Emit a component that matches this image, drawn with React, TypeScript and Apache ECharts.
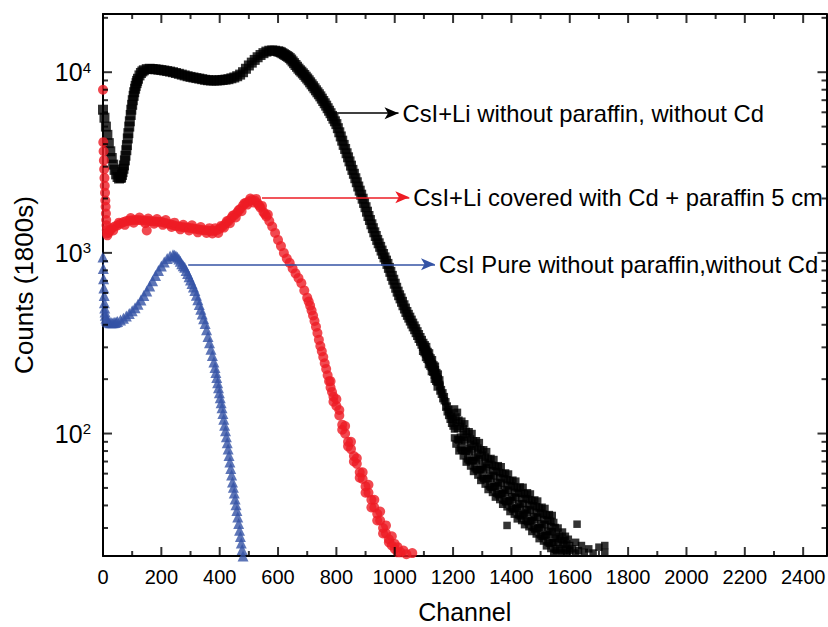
import React, { useEffect, useRef } from "react";
import * as echarts from "echarts";

const FONT = "'Liberation Sans', Arial, Helvetica, sans-serif";

const xTickValues = [0, 200, 400, 600, 800, 1000, 1200, 1400, 1600, 1800, 2000, 2200, 2400];
const xMinorValues = [100, 300, 500, 700, 900, 1100, 1300, 1500, 1700, 1900, 2100, 2300];
const yMajorValues = [100, 1000, 10000];
const yMinorValues = [30, 40, 50, 60, 70, 80, 90, 200, 300, 400, 500, 600, 700, 800, 900, 2000, 3000, 4000, 5000, 6000, 7000, 8000, 9000, 20000];

const seriesNames = [
  "CsI+Li without paraffin, without Cd",
  "CsI+Li covered with Cd + paraffin 5 cm",
  "CsI Pure without paraffin,without Cd",
];

// [channel, counts]
const blackMain: [number, number][] = [
  [0, 6200], [5, 5600], [10, 5000], [15, 4500], [20, 4050], [25, 3650], [30, 3350], [35, 3080], [40, 2880], [45, 2720],
  [50, 2630], [55, 2580], [60, 2600], [62, 2620], [65, 2700], [67, 2800], [70, 2920], [72, 3050], [75, 3250], [77, 3450],
  [80, 3700], [82, 3950], [85, 4300], [87, 4600], [90, 5000], [92, 5350], [95, 5800], [97, 6200], [100, 6600], [102, 7000],
  [105, 7400], [107, 7750], [110, 8100], [112, 8400], [115, 8700], [117, 8950], [120, 9200], [125, 9600], [130, 9900],
  [135, 10100], [140, 10250], [150, 10400], [160, 10450], [170, 10420], [180, 10380], [190, 10330], [200, 10280],
  [210, 10220], [220, 10150], [230, 10080], [240, 10000], [250, 9900], [260, 9800], [270, 9700], [280, 9600], [290, 9500],
  [300, 9420], [310, 9350], [320, 9280], [330, 9220], [340, 9150], [350, 9080], [360, 9030], [370, 9000], [380, 9000],
  [390, 9000], [400, 9020], [410, 9060], [420, 9100], [430, 9150], [440, 9250], [450, 9350], [460, 9500], [470, 9700],
  [480, 10000], [490, 10450], [500, 10900], [510, 11300], [520, 11700], [530, 12100], [540, 12450], [550, 12750],
  [560, 13000], [570, 13150], [580, 13200], [590, 13150], [600, 13050], [605, 12980], [610, 12880], [615, 12740],
  [620, 12590], [625, 12450], [630, 12300], [635, 12160], [640, 11970], [645, 11750], [650, 11480], [655, 11220],
  [660, 10960], [665, 10720], [670, 10470], [675, 10250], [680, 10070], [685, 9860], [690, 9660], [695, 9440],
  [700, 9230], [705, 9020], [710, 8790], [715, 8570], [720, 8360], [725, 8150], [730, 7940], [735, 7740], [740, 7550],
  [745, 7350], [750, 7140], [755, 6930], [760, 6730], [765, 6530], [770, 6320], [775, 6120], [780, 5930], [785, 5730],
  [790, 5530], [795, 5350], [800, 5160], [805, 4900], [810, 4650], [815, 4410], [820, 4180], [825, 3960], [830, 3760],
  [835, 3560], [840, 3380], [845, 3210], [850, 3040], [855, 2880], [860, 2740], [865, 2590], [870, 2460], [875, 2330],
  [880, 2210], [885, 2100], [890, 1995], [895, 1890], [900, 1790], [905, 1690], [910, 1600], [915, 1520], [920, 1440],
  [925, 1370], [930, 1300], [935, 1240], [940, 1180], [945, 1130], [950, 1080], [955, 1030], [960, 986], [965, 944],
  [970, 906], [975, 869], [980, 826], [985, 785], [990, 746], [995, 710], [1000, 675], [1005, 641], [1010, 610],
  [1015, 583], [1020, 560], [1025, 536], [1030, 513], [1035, 492], [1040, 471], [1045, 454], [1050, 438], [1055, 422],
  [1060, 406], [1065, 392], [1070, 378], [1075, 364], [1080, 351], [1085, 338], [1090, 326], [1095, 314],
];

const blackTail: [number, number][] = [
  [1100, 305], [1100, 290], [1105, 285], [1105, 298], [1110, 280], [1110, 268], [1115, 262], [1115, 275],
  [1120, 258], [1120, 245], [1125, 240], [1125, 252], [1130, 236], [1130, 224], [1135, 222], [1135, 232],
  [1140, 214], [1140, 203], [1145, 198], [1145, 210], [1150, 195], [1150, 184], [1155, 183], [1155, 172],
  [1160, 175], [1160, 165], [1165, 168], [1165, 156], [1170, 152], [1170, 160], [1175, 150], [1175, 140],
  [1180, 142], [1180, 132], [1185, 136], [1185, 126], [1190, 130], [1190, 120], [1195, 125], [1195, 114],
  [1200, 120], [1200, 110],
  [1205, 136.8], [1205, 106], [1205, 94.6], [1210, 115], [1210, 87.5], [1210, 123.6], [1215, 92.9], [1215, 106.7], [1215, 131],
  [1220, 118.6], [1220, 92], [1220, 80.2], [1225, 95.5], [1225, 109.6], [1225, 83.2], [1230, 117], [1230, 90.8], [1230, 80.9],
  [1235, 99], [1235, 75.2], [1235, 106.2], [1240, 80.2], [1240, 92], [1240, 113.2], [1245, 102.8], [1245, 79.8], [1245, 69.5],
  [1250, 83.2], [1250, 95.5], [1250, 72.4], [1255, 102.3], [1255, 79.4], [1255, 70.8], [1260, 87.1], [1260, 66.1], [1260, 93.3],
  [1265, 70.8], [1265, 81.3], [1265, 100], [1270, 91.2], [1270, 70.8], [1270, 61.7], [1275, 74.1], [1275, 85.1], [1275, 64.6],
  [1280, 91.2], [1280, 70.8], [1280, 63.1], [1285, 77.6], [1285, 58.9], [1285, 83.2], [1290, 63.1], [1290, 72.4], [1290, 89.1],
  [1295, 81.3], [1295, 63.1], [1295, 55], [1300, 66.1], [1300, 75.9], [1300, 57.5], [1305, 81.3], [1305, 63.1], [1305, 56.2],
  [1310, 69.2], [1310, 52.5], [1310, 74.1], [1315, 56.2], [1315, 64.6], [1315, 79.4], [1320, 72.4], [1320, 56.2], [1320, 49],
  [1325, 58.9], [1325, 67.6], [1325, 51.3], [1330, 72.8], [1330, 56.5], [1330, 50.4], [1335, 62.2], [1335, 47.2], [1335, 66.7],
  [1340, 50.8], [1340, 58.3], [1340, 71.8], [1345, 65.8], [1345, 51.1], [1345, 44.5], [1350, 53.7], [1350, 61.7], [1350, 46.8],
  [1355, 66.4], [1355, 51.5], [1355, 45.9], [1360, 56.8], [1360, 43.1], [1360, 60.8], [1365, 46.3], [1365, 53.2], [1365, 65.5],
  [1370, 60], [1370, 46.6], [1370, 40.6], [1375, 49], [1375, 56.2], [1375, 42.7], [1380, 60.5], [1380, 47], [1380, 41.9],
  [1385, 51.8], [1385, 39.3], [1385, 55.5], [1385, 31], [1390, 42.3], [1390, 48.5], [1390, 59.7], [1395, 54.7], [1395, 42.5], [1395, 37],
  [1400, 44.7], [1400, 51.3], [1400, 38.9], [1405, 55.2], [1405, 42.9], [1405, 38.2], [1410, 47.2], [1410, 35.8], [1410, 50.6],
  [1415, 38.5], [1415, 44.3], [1415, 54.5], [1420, 49.9], [1420, 38.7], [1420, 33.7], [1425, 40.7], [1425, 46.8], [1425, 35.5],
  [1430, 50.6], [1430, 39.3], [1430, 35], [1435, 43.4], [1435, 33], [1435, 46.6], [1440, 35.6], [1440, 40.9], [1440, 50.4],
  [1445, 46.3], [1445, 36], [1445, 31.3], [1450, 38], [1450, 43.6], [1450, 33.1], [1455, 47], [1455, 36.5], [1455, 32.5],
  [1460, 40.2], [1460, 30.5], [1460, 43.1], [1465, 32.8], [1465, 37.7], [1465, 46.3], [1470, 42.5], [1470, 33], [1470, 28.7],
  [1475, 34.7], [1475, 39.8], [1475, 30.2], [1480, 42.9], [1480, 33.3], [1480, 29.6], [1485, 36.6], [1485, 27.8], [1485, 39.3],
  [1490, 29.9], [1490, 34.4], [1490, 42.3], [1495, 38.7], [1495, 30.1], [1495, 26.2], [1500, 31.6], [1500, 36.3], [1500, 27.5],
  [1505, 39.1], [1505, 30.3], [1505, 27], [1510, 33.4], [1510, 25.4], [1510, 35.8], [1515, 27.3], [1515, 31.3], [1515, 38.5],
  [1520, 35.3], [1520, 27.4], [1520, 23.9], [1525, 28.8], [1525, 33.1], [1525, 25.1], [1530, 35.6], [1530, 27.7], [1530, 24.7],
  [1535, 30.5], [1535, 23.1], [1535, 32.7], [1540, 24.9], [1540, 28.6], [1540, 35.2], [1545, 32.2], [1545, 25], [1545, 21.8],
  [1550, 26.3], [1550, 30.2], [1550, 22.9], [1555, 27.5], [1555, 22.5], [1560, 25], [1560, 30], [1565, 23], [1565, 27],
  [1570, 21.8], [1570, 26], [1575, 24.5], [1575, 28.5], [1580, 22.5], [1580, 25.5], [1585, 27], [1585, 23], [1590, 21.8],
  [1590, 24.5], [1595, 26], [1600, 22.5], [1600, 24], [1610, 23], [1620, 21.8], [1620, 25], [1625, 31.5], [1630, 22.5],
  [1640, 24], [1650, 22], [1665, 23], [1680, 21.8], [1700, 23.5], [1720, 22], [1720, 24],
];

const redMain: [number, number][] = [
  [0, 8000], [1, 4100], [2, 3650], [3, 3250], [4, 2900], [5, 2600], [6, 2350], [7, 2150], [8, 1950], [9, 1800],
  [10, 1650], [11, 1520], [12, 1420], [13, 1340], [14, 1280], [15, 1250], [20, 1300], [25, 1340], [30, 1370], [40, 1400],
  [50, 1420], [60, 1450], [70, 1480], [80, 1500], [90, 1510], [100, 1515], [110, 1520], [120, 1520], [130, 1515],
  [140, 1510], [150, 1505], [160, 1500], [170, 1495], [180, 1490], [190, 1488], [200, 1485], [210, 1470], [220, 1455],
  [230, 1440], [240, 1425], [250, 1410], [260, 1400], [270, 1390], [280, 1385], [290, 1380], [300, 1375], [310, 1365],
  [320, 1355], [330, 1345], [340, 1340], [350, 1335], [360, 1330], [370, 1325], [380, 1325], [390, 1335], [400, 1360],
  [410, 1400], [420, 1450], [430, 1500], [440, 1560], [450, 1615], [460, 1670], [470, 1750], [480, 1830], [490, 1890],
  [500, 1930], [510, 1960], [520, 1950], [530, 1880], [540, 1780], [550, 1680], [560, 1590], [570, 1500], [580, 1400],
  [590, 1290], [600, 1180], [610, 1090], [620, 1000], [630, 930], [640, 880], [650, 820], [660, 770], [670, 725],
  [680, 680], [690, 620], [700, 565], [705, 538], [710, 510], [715, 480], [720, 450], [725, 420], [730, 390], [735, 360],
  [740, 330], [745, 305], [750, 285], [755, 265], [760, 245], [765, 228], [770, 210], [775, 195], [780, 180], [785, 170],
  [790, 160], [800, 142], [810, 126], [820, 112], [830, 100], [840, 90], [850, 82], [860, 75], [870, 68], [880, 61],
  [890, 56], [900, 51], [910, 47], [920, 43], [930, 39], [940, 36], [950, 33], [960, 30], [970, 28], [980, 26], [990, 24],
  [1000, 23], [1010, 22],
];

const redNoise: [number, number][] = [
  [35, 1330], [55, 1470], [75, 1430], [95, 1560], [105, 1470], [125, 1570], [145, 1460], [155, 1550], [150, 1330],
  [175, 1450], [185, 1540], [205, 1430], [215, 1520], [235, 1390], [245, 1470], [265, 1350], [275, 1430], [295, 1330],
  [305, 1420], [325, 1300], [335, 1390], [355, 1290], [365, 1370], [375, 1280], [385, 1370], [395, 1290], [405, 1410],
  [415, 1380], [425, 1500], [435, 1460], [445, 1610], [455, 1570], [465, 1720], [475, 1700], [485, 1880], [495, 1850],
  [505, 2000], [515, 1900], [525, 1990], [535, 1830], [545, 1820], [555, 1640], [565, 1630],
  [780, 195], [790, 150], [800, 155], [810, 135], [820, 105], [830, 110], [840, 85], [850, 90], [860, 70], [870, 73],
  [880, 57], [890, 61], [900, 47], [910, 52], [920, 39], [930, 43], [940, 33], [950, 37], [960, 28], [970, 31], [980, 25],
  [990, 27], [1000, 24.5], [1010, 23.5], [1020, 22], [1030, 22.5], [1040, 21.5], [1060, 21.8],
];

const blueMain: [number, number][] = [
  [0, 950], [1, 820], [2, 720], [3, 640], [4, 580], [5, 530], [6, 495], [7, 470], [8, 452], [10, 435], [12, 425],
  [15, 418], [20, 413], [25, 411], [30, 410], [35, 410], [40, 412], [45, 414], [50, 417], [60, 425], [70, 435], [80, 448],
  [90, 462], [100, 478], [110, 497], [120, 520], [130, 548], [140, 580], [150, 615], [160, 655], [170, 700], [180, 750],
  [190, 800], [200, 845], [210, 890], [220, 930], [230, 960], [240, 975], [245, 970], [250, 960], [255, 945], [260, 925],
  [265, 900], [270, 872], [275, 850], [280, 832], [285, 800], [290, 770], [295, 738], [300, 708], [305, 677], [310, 648],
  [315, 620], [320, 583], [325, 550], [330, 518], [335, 488], [340, 459], [345, 432], [350, 406], [355, 375], [360, 345],
  [365, 318], [370, 293], [375, 270], [380, 249], [384, 232], [387, 218], [390, 204], [393, 191], [396, 179], [399, 168],
  [402, 158], [405, 148], [408, 139], [411, 129], [414, 120], [417, 111], [420, 103.5], [423, 96], [426, 89], [429, 82],
  [432, 75.5], [435, 69.5], [438, 64], [441, 59], [444, 54], [447, 50.4], [450, 46.8], [453, 43.4], [456, 40.4],
  [459, 37.5], [462, 34.5], [465, 31.8], [468, 29.2], [471, 26.9], [474, 24.8], [477, 22.8], [480, 21],
];

// arrows: [startChannel, endChannel, counts]
const arrowBlack = [785, 1013, 5930];
const arrowRed = [545, 1050, 2030];
const arrowBlue = [292, 1138, 865];

const X_MIN = 0;
const X_MAX = 2480;
const Y_MIN = 21;
const Y_MAX = 21000;

function makeArrow(arrow: number[], color: string, text: string) {
  return {
    silent: true,
    animation: false,
    symbol: ["none", "arrow"],
    symbolSize: [9, 14],
    lineStyle: { color, width: 1.5, type: "solid" },
    label: {
      show: true,
      position: "end",
      formatter: text,
      color: "#000",
      fontSize: 23.8,
      fontFamily: FONT,
      distance: 4,
    },
    emphasis: { disabled: true },
    data: [[{ coord: [arrow[0], arrow[2]] }, { coord: [arrow[1], arrow[2]] }]],
  };
}

// inward tick marks drawn as thin rect symbols on the frame edges, placed by the axes' own scales
function tickMarks(points: number[][], size: number[], offset: number[]) {
  return {
    type: "scatter",
    xAxisIndex: 0,
    yAxisIndex: 0,
    silent: true,
    clip: false,
    z: 10,
    symbol: "rect",
    symbolSize: size,
    symbolOffset: offset,
    itemStyle: { color: "#000" },
    emphasis: { disabled: true },
    tooltip: { show: false },
    data: points,
  };
}

export default function App() {
  const ref = useRef<HTMLDivElement>(null);
  useEffect(() => {
    const chart = echarts.init(ref.current!, null, { renderer: "svg" });
    const axisLineStyle = () => ({ color: "#000", width: 2 });
    const xBase = () => ({ type: "value", min: X_MIN, max: X_MAX, splitLine: { show: false } });
    const yBase = () => ({ type: "log", logBase: 10, min: Y_MIN, max: Y_MAX, splitLine: { show: false } });

    chart.setOption({
      animation: false,
      backgroundColor: "#fff",
      grid: { left: 103, right: 1.5, top: 14, bottom: 71, containLabel: false, outerBoundsMode: "none" },
      xAxis: [
        {
          ...xBase(), position: "bottom",
          axisLine: { show: true, onZero: false, lineStyle: axisLineStyle() },
          axisTick: { show: false },
          axisLabel: {
            show: true, customValues: xTickValues, fontSize: 20, color: "#000", fontFamily: FONT, margin: 11,
            formatter: (v: number) => String(v),
          },
          name: "Channel", nameLocation: "middle", nameGap: 45,
          nameTextStyle: { fontSize: 25, color: "#000", fontFamily: FONT, lineHeight: 22 },
        },
        {
          ...xBase(), position: "top",
          axisLine: { show: true, onZero: false, lineStyle: axisLineStyle() },
          axisTick: { show: false },
          axisLabel: { show: false },
        },
      ],
      yAxis: [
        {
          ...yBase(), position: "left",
          axisLine: { show: true, onZero: false, lineStyle: axisLineStyle() },
          axisTick: { show: false },
          axisLabel: {
            show: true, customValues: yMajorValues, margin: 12,
            formatter: (v: number) => `{b|10}{s|${Math.round(Math.log10(v))}}`,
            rich: {
              b: { fontSize: 25, color: "#000", fontFamily: FONT },
              s: { fontSize: 15, color: "#000", fontFamily: FONT, verticalAlign: "top" },
            },
          },
          name: "Counts (1800s)", nameLocation: "middle", nameGap: 66, nameRotate: 90,
          nameTextStyle: { fontSize: 26, color: "#000", fontFamily: FONT },
        },
        {
          ...yBase(), position: "right",
          axisLine: { show: true, onZero: false, lineStyle: axisLineStyle() },
          axisTick: { show: false },
          axisLabel: { show: false },
        },
      ],
      series: [
        {
          type: "scatter", name: seriesNames[0], xAxisIndex: 0, yAxisIndex: 0,
          data: blackMain.concat(blackTail),
          symbol: "rect",
          symbolSize: (v: number[]) => (v[0] > 1150 ? 7.5 : 10),
          itemStyle: { color: "#000" },
          markLine: makeArrow(arrowBlack, "#000", seriesNames[0]),
        },
        {
          type: "scatter", name: seriesNames[1], xAxisIndex: 0, yAxisIndex: 0,
          data: redMain.concat(redNoise),
          symbol: "circle", symbolSize: 10,
          itemStyle: { color: "#ed1c24" },
          markLine: makeArrow(arrowRed, "#ed1c24", seriesNames[1]),
        },
        {
          type: "scatter", name: seriesNames[2], xAxisIndex: 0, yAxisIndex: 0,
          data: blueMain,
          symbol: "triangle", symbolSize: 11,
          itemStyle: { color: "#3453a5" },
          markLine: makeArrow(arrowBlue, "#3453a5", seriesNames[2]),
        },
        // bottom edge, pointing up
        tickMarks(xTickValues.map((v) => [v, Y_MIN]), [2, 9], [0, -4.5]),
        tickMarks(xMinorValues.map((v) => [v, Y_MIN]), [2, 5], [0, -2.5]),
        // top edge, pointing down
        tickMarks(xTickValues.map((v) => [v, Y_MAX]), [2, 9], [0, 4.5]),
        tickMarks(xMinorValues.map((v) => [v, Y_MAX]), [2, 5], [0, 2.5]),
        // left edge, pointing right
        tickMarks(yMajorValues.map((v) => [X_MIN, v]), [9, 2], [4.5, 0]),
        tickMarks(yMinorValues.map((v) => [X_MIN, v]), [5, 2], [2.5, 0]),
        // right edge, pointing left
        tickMarks(yMajorValues.map((v) => [X_MAX, v]), [9, 2], [-4.5, 0]),
        tickMarks(yMinorValues.map((v) => [X_MAX, v]), [5, 2], [-2.5, 0]),
      ],
    });

    return () => chart.dispose();
  }, []);
  return (
    <div
      ref={ref}
      style={{ position: "fixed", left: 0, top: 0, width: 828, height: 627, background: "#fff" }}
    />
  );
}
